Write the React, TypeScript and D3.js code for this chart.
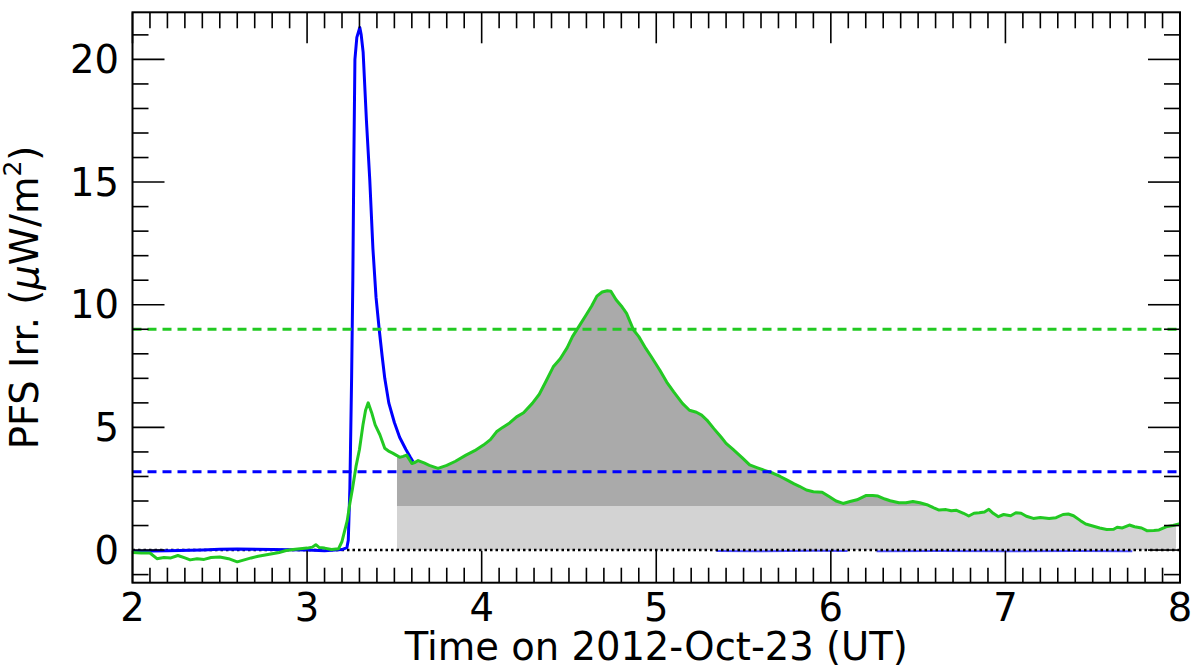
import React, { useEffect } from 'react';
import * as d3 from 'd3';

// time in hours UT, irradiance in uW/m^2
const greenT = [2.0, 2.05, 2.1, 2.14, 2.18, 2.22, 2.26, 2.3, 2.33, 2.37, 2.41, 2.45, 2.5, 2.55, 2.6, 2.64, 2.68, 2.72, 2.76, 2.8, 2.84, 2.88, 2.92, 2.96, 3.0, 3.03, 3.05, 3.07, 3.1, 3.14, 3.18, 3.2, 3.23, 3.245, 3.26, 3.28, 3.3, 3.32, 3.335, 3.35, 3.37, 3.39, 3.417, 3.445, 3.47, 3.49, 3.515, 3.53, 3.55, 3.57, 3.585, 3.6, 3.62, 3.636, 3.67, 3.7, 3.75, 3.8, 3.85, 3.91, 3.96, 4.01, 4.05, 4.085, 4.12, 4.16, 4.2, 4.24, 4.29, 4.33, 4.37, 4.41, 4.45, 4.49, 4.52, 4.56, 4.6, 4.63, 4.66, 4.69, 4.72, 4.74, 4.77, 4.8, 4.83, 4.87, 4.9, 4.94, 4.97, 5.02, 5.06, 5.1, 5.15, 5.19, 5.23, 5.26, 5.29, 5.33, 5.37, 5.4, 5.44, 5.49, 5.535, 5.58, 5.62, 5.67, 5.71, 5.75, 5.79, 5.82, 5.86, 5.9, 5.95, 5.99, 6.03, 6.07, 6.11, 6.15, 6.2, 6.24, 6.27, 6.31, 6.34, 6.39, 6.43, 6.47, 6.51, 6.55, 6.59, 6.62, 6.66, 6.69, 6.72, 6.76, 6.79, 6.82, 6.85, 6.88, 6.905, 6.93, 6.96, 6.99, 7.03, 7.06, 7.09, 7.12, 7.16, 7.2, 7.25, 7.29, 7.33, 7.36, 7.39, 7.43, 7.46, 7.5, 7.54, 7.58, 7.62, 7.64, 7.67, 7.71, 7.74, 7.78, 7.81, 7.85, 7.88, 7.92, 7.96, 8.0];
const greenV = [-0.1, -0.12, -0.12, -0.35, -0.3, -0.32, -0.22, -0.32, -0.4, -0.35, -0.38, -0.3, -0.28, -0.35, -0.48, -0.4, -0.32, -0.25, -0.2, -0.15, -0.1, -0.02, 0.02, 0.05, 0.08, 0.12, 0.22, 0.1, 0.08, 0.02, 0.05, 0.35, 1.2, 1.9, 2.5, 3.4, 4.1, 5.1, 5.7, 6.0, 5.6, 5.1, 4.7, 4.15, 4.02, 3.95, 3.85, 3.78, 3.82, 3.87, 3.7, 3.53, 3.58, 3.65, 3.55, 3.45, 3.33, 3.45, 3.62, 3.87, 4.05, 4.28, 4.5, 4.82, 5.0, 5.18, 5.43, 5.6, 5.98, 6.35, 6.9, 7.47, 7.8, 8.25, 8.7, 9.15, 9.6, 9.95, 10.35, 10.52, 10.57, 10.55, 10.2, 9.95, 9.65, 8.97, 8.7, 8.22, 7.9, 7.34, 6.85, 6.45, 5.98, 5.7, 5.62, 5.5, 5.3, 4.95, 4.62, 4.35, 4.1, 3.78, 3.47, 3.35, 3.25, 3.13, 3.0, 2.85, 2.7, 2.6, 2.45, 2.38, 2.36, 2.18, 2.0, 1.9, 1.98, 2.05, 2.22, 2.22, 2.2, 2.08, 2.01, 1.93, 1.93, 1.98, 1.93, 1.85, 1.72, 1.63, 1.65, 1.6, 1.62, 1.5, 1.39, 1.5, 1.52, 1.55, 1.66, 1.5, 1.36, 1.45, 1.4, 1.52, 1.5, 1.38, 1.29, 1.33, 1.29, 1.32, 1.45, 1.47, 1.4, 1.2, 1.06, 0.98, 0.9, 0.84, 0.85, 0.93, 0.9, 1.02, 0.95, 0.9, 0.79, 0.8, 0.82, 0.95, 1.0, 1.08];

const blueT = [2.0, 2.2, 2.4, 2.5, 2.6, 2.8, 3.0, 3.1, 3.2, 3.228, 3.236, 3.245, 3.255, 3.262, 3.268, 3.274, 3.285, 3.302, 3.31, 3.321, 3.34, 3.359, 3.377, 3.395, 3.413, 3.43, 3.445, 3.468, 3.5, 3.53, 3.566, 3.59, 3.607];
const blueV = [-0.05, -0.03, 0.0, 0.03, 0.04, 0.02, 0.0, -0.03, 0.02, 0.1, 0.4, 2.5, 7.0, 11.0, 16.0, 20.0, 20.9, 21.3, 21.0, 20.3, 17.5, 15.1, 12.3, 10.3, 9.0, 7.9, 7.0, 6.0, 5.2, 4.6, 4.1, 3.8, 3.6];

// later blue samples sit just under zero, with a gap
const blueLateT = [5.344, 5.6, 5.9, 6.096, NaN, 6.262, 6.6, 7.0, 7.4, 7.727];
const blueLateV = [-0.04, -0.05, -0.03, -0.04, NaN, -0.05, -0.04, -0.05, -0.04, -0.05];

const greenLevel = 9.0;
const blueLevel = 3.19;
const bandTop = 1.8;
const shadeStart = 3.515;
const shadeEnd = 7.977;

const xMajor = [2, 3, 4, 5, 6, 7, 8];
const yMajor = [0, 5, 10, 15, 20];

const W = 1200;
const H = 671;
const left = 132.5, right = 1180, top = 12.3, bottom = 582.7;
const FONT = 'DejaVu Sans';

export default function App() {
  useEffect(() => {
    document.body.style.margin = '0';
  }, []);

  const x = d3.scaleLinear().domain([2, 8]).range([left, right]);
  const y = d3.scaleLinear().domain([-1.33, 21.92]).range([bottom, top]);

  const green = greenT.map((t, i) => [t, greenV[i]] as [number, number]);
  const blue = blueT.map((t, i) => [t, blueV[i]] as [number, number]);
  const blueLate = blueLateT.map((t, i) => [t, blueLateV[i]] as [number, number]);

  const gAt = (t: number) => {
    const i = d3.bisector((d: [number, number]) => d[0]).left(green, t);
    if (i <= 0) return green[0][1];
    if (i >= green.length) return green[green.length - 1][1];
    const a = green[i - 1], b = green[i];
    return a[1] + (b[1] - a[1]) * (t - a[0]) / (b[0] - a[0]);
  };
  const shaded: [number, number][] = [
    [shadeStart, gAt(shadeStart)],
    ...green.filter(d => d[0] > shadeStart && d[0] < shadeEnd),
    [shadeEnd, gAt(shadeEnd)],
  ];

  const line = d3.line<[number, number]>()
    .defined(d => !isNaN(d[0]))
    .x(d => x(d[0])).y(d => y(d[1]));
  const darkArea = d3.area<[number, number]>()
    .x(d => x(d[0])).y0(y(bandTop)).y1(d => y(Math.max(d[1], bandTop)));
  const lightArea = d3.area<[number, number]>()
    .x(d => x(d[0])).y0(y(0)).y1(d => y(Math.min(d[1], bandTop)));

  const xMinor = d3.range(20, 81).map(v => v / 10).filter(v => Math.abs(v - Math.round(v)) > 1e-6);
  const yMinor = d3.range(-1, 22).filter(v => v % 5 !== 0);

  return (
    <svg width={W} height={H} style={{ display: 'block', background: '#fff' }}>
      <defs>
        <clipPath id="plot">
          <rect x={left} y={top} width={right - left} height={bottom - top} />
        </clipPath>
      </defs>
      <g clipPath="url(#plot)">
        <path d={lightArea(shaded) || ''} fill="#d3d3d3" />
        <path d={darkArea(shaded) || ''} fill="#aaaaaa" />
        <path d={line(blueLate) || ''} fill="none" stroke="#0000ff" strokeWidth={2} opacity={0.7} />
        <line x1={left} x2={right} y1={y(0)} y2={y(0)} stroke="#000" strokeWidth={2.5} strokeDasharray="2.5 3" />
        <path d={line(blue) || ''} fill="none" stroke="#0000ff" strokeWidth={3} strokeLinejoin="round" />
        <path d={line(green) || ''} fill="none" stroke="#22c922" strokeWidth={3} strokeLinejoin="round" />
        <line x1={left} x2={right} y1={y(greenLevel)} y2={y(greenLevel)} stroke="#22c922" strokeWidth={3} strokeDasharray="9 6" />
        <line x1={left} x2={right} y1={y(blueLevel)} y2={y(blueLevel)} stroke="#0000ff" strokeWidth={3} strokeDasharray="9 6" />
      </g>

      <g stroke="#000" strokeWidth={1.6}>
        {xMajor.map(v => (
          <g key={'xM' + v}>
            <line x1={x(v)} x2={x(v)} y1={bottom} y2={bottom - 32} />
            <line x1={x(v)} x2={x(v)} y1={top} y2={top + 31} />
          </g>
        ))}
        {xMinor.map(v => (
          <g key={'xm' + v}>
            <line x1={x(v)} x2={x(v)} y1={bottom} y2={bottom - 15} />
            <line x1={x(v)} x2={x(v)} y1={top} y2={top + 16} />
          </g>
        ))}
        {yMajor.map(v => (
          <g key={'yM' + v}>
            <line x1={left} x2={left + 32} y1={y(v)} y2={y(v)} />
            <line x1={right} x2={right - 32} y1={y(v)} y2={y(v)} />
          </g>
        ))}
        {yMinor.map(v => (
          <g key={'ym' + v}>
            <line x1={left} x2={left + 16} y1={y(v)} y2={y(v)} />
            <line x1={right} x2={right - 16} y1={y(v)} y2={y(v)} />
          </g>
        ))}
      </g>
      <rect x={left} y={top} width={right - left} height={bottom - top} fill="none" stroke="#000" strokeWidth={2} />

      <g fontFamily={FONT} fontSize={38.5} fill="#000">
        {xMajor.map(v => (
          <text key={'xl' + v} x={x(v)} y={621} textAnchor="middle">{v}</text>
        ))}
        {yMajor.map(v => (
          <text key={'yl' + v} x={119} y={y(v)} textAnchor="end" dominantBaseline="central">{v}</text>
        ))}
        <text x={(left + right) / 2} y={660} textAnchor="middle">Time on 2012-Oct-23 (UT)</text>
        <text transform={`translate(38, ${(top + bottom) / 2}) rotate(-90)`} textAnchor="middle">
          PFS Irr. (<tspan fontStyle="italic">μ</tspan>W/m<tspan fontSize={25} dy={-17}>2</tspan><tspan dy={17}>)</tspan>
        </text>
      </g>
    </svg>
  );
}
